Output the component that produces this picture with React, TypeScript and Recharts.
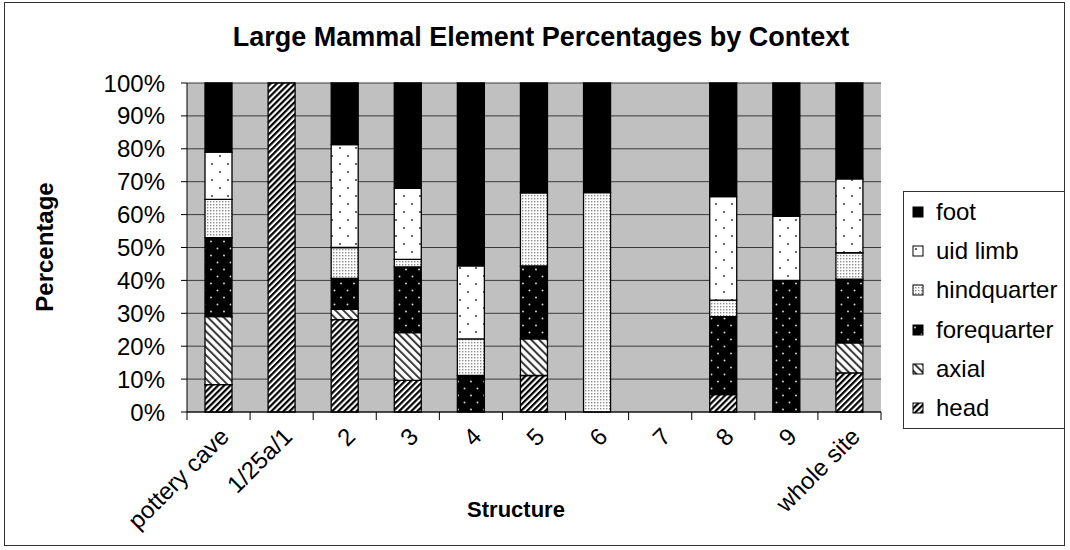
import React from 'react';
import { BarChart, Bar, XAxis, YAxis, CartesianGrid } from 'recharts';

const categories = ['pottery cave', '1/25a/1', '2', '3', '4', '5', '6', '7', '8', '9', 'whole site'];
const head = [8.3, 100, 28.1, 9.6, 0, 11.1, 0, 0, 5.3, 0, 11.9];
const axial = [20.7, 0, 3.1, 14.5, 0, 11.1, 0, 0, 0, 0, 9.1];
const forequarter = [24.0, 0, 9.4, 20.0, 11.1, 22.2, 0, 0, 23.7, 40.0, 19.4];
const hindquarter = [11.6, 0, 9.4, 2.3, 11.1, 22.2, 66.7, 0, 5.0, 0, 8.0];
const uidLimb = [14.4, 0, 31.3, 21.6, 22.2, 0, 0, 0, 31.5, 19.5, 22.5];
const foot = [21.0, 0, 18.7, 32.0, 55.6, 33.4, 33.3, 0, 34.5, 40.5, 29.1];
const yTicks = [0, 10, 20, 30, 40, 50, 60, 70, 80, 90, 100];

const seriesKeys = ['head', 'axial', 'forequarter', 'hindquarter', 'uid limb', 'foot'];
const patternIds: Record<string, string> = {
  head: 'head',
  axial: 'axial',
  forequarter: 'fore',
  hindquarter: 'hind',
  'uid limb': 'uid',
  foot: 'foot',
};
const legendOrder = ['foot', 'uid limb', 'hindquarter', 'forequarter', 'axial', 'head'];

const data = categories.map((name, i) => ({
  name,
  head: head[i],
  axial: axial[i],
  forequarter: forequarter[i],
  hindquarter: hindquarter[i],
  'uid limb': uidLimb[i],
  foot: foot[i],
}));

const FONT = "'Liberation Sans', Arial, Helvetica, sans-serif";

const makeDefs = (p: string) => (
  <defs>
    <pattern id={`${p}-head`} patternUnits="userSpaceOnUse" width="4.3" height="4.3" patternTransform="rotate(45)">
      <rect width="4.3" height="4.3" fill="#ffffff" />
      <rect width="2.2" height="4.3" fill="#000000" />
    </pattern>
    <pattern id={`${p}-axial`} patternUnits="userSpaceOnUse" width="5.6" height="5.6" patternTransform="rotate(-45)">
      <rect width="5.6" height="5.6" fill="#ffffff" />
      <rect width="2" height="5.6" fill="#3a3a3a" />
    </pattern>
    <pattern id={`${p}-fore`} patternUnits="userSpaceOnUse" width="13" height="14">
      <rect width="13" height="14" fill="#000000" />
      <circle cx="3" cy="3.5" r="0.95" fill="#d8d8d8" />
      <circle cx="9.5" cy="10.5" r="0.95" fill="#d8d8d8" />
    </pattern>
    <pattern id={`${p}-hind`} patternUnits="userSpaceOnUse" width="3" height="3">
      <rect width="3" height="3" fill="#ffffff" />
      <rect x="0" y="0" width="1.4" height="1.4" fill="#8c8c8c" />
    </pattern>
    <pattern id={`${p}-uid`} patternUnits="userSpaceOnUse" width="16" height="16">
      <rect width="16" height="16" fill="#ffffff" />
      <circle cx="4" cy="4" r="1" fill="#333333" />
      <circle cx="12" cy="12" r="1" fill="#333333" />
    </pattern>
    <pattern id={`${p}-foot`} patternUnits="userSpaceOnUse" width="4" height="4">
      <rect width="4" height="4" fill="#000000" />
    </pattern>
  </defs>
);

const XTick = (props: any) => {
  const { x, y, payload, index } = props;
  const half = payload && typeof payload.offset === 'number' && payload.offset > 0 ? payload.offset : 31.55;
  return (
    <g>
      <line x1={x - half} y1={y} x2={x - half} y2={y + 8} stroke="#000" strokeWidth={1} />
      {index === categories.length - 1 && (
        <line x1={x + half} y1={y} x2={x + half} y2={y + 8} stroke="#000" strokeWidth={1} />
      )}
      <text
        transform={`translate(${x + 6},${y + 20}) rotate(-45)`}
        textAnchor="end"
        fontSize={24}
        fontFamily={FONT}
        fill="#000"
        dy="0.35em"
      >
        {payload.value}
      </text>
    </g>
  );
};

export default function App() {
  return (
    <div style={{ position: 'relative', width: 1070, height: 550, background: '#fff', fontFamily: FONT }}>
      <style>{`body{margin:0;}`}</style>
      <div
        style={{
          position: 'absolute',
          left: 4,
          top: 2,
          width: 1061,
          height: 544,
          border: '1px solid #333',
          boxSizing: 'border-box',
        }}
      />
      <div style={{ position: 'absolute', left: 0, top: 0 }}>
        <BarChart
          width={1070}
          height={550}
          data={data}
          margin={{ top: 83, right: 189, bottom: 98, left: 127 }}
          barCategoryGap={0}
        >
          {makeDefs('c')}
          <CartesianGrid
            vertical={false}
            horizontal={true}
            fill="#c0c0c0"
            fillOpacity={1}
            stroke="#3a3a3a"
            strokeWidth={1}
          />
          <XAxis
            dataKey="name"
            type="category"
            interval={0}
            height={40}
            tickSize={0}
            tickMargin={0}
            tickLine={false}
            axisLine={{ stroke: '#000', strokeWidth: 1 }}
            tick={<XTick />}
          />
          <YAxis
            type="number"
            domain={[0, 100]}
            ticks={yTicks}
            interval={0}
            width={60}
            tickSize={6}
            tickMargin={16}
            tickFormatter={(v: number) => `${v}%`}
            tick={{ fontSize: 24, fontFamily: FONT, fill: '#000' }}
            tickLine={{ stroke: '#000' }}
            axisLine={{ stroke: '#000' }}
          />
          {seriesKeys.map((k) => (
            <Bar
              key={k}
              dataKey={k}
              stackId="a"
              barSize={27}
              fill={`url(#c-${patternIds[k]})`}
              stroke="#000"
              strokeWidth={1.3}
              isAnimationActive={false}
            />
          ))}
        </BarChart>
      </div>
      <div
        style={{
          position: 'absolute',
          left: 0,
          width: 1082,
          top: 21,
          textAlign: 'center',
          fontSize: 27,
          fontWeight: 'bold',
          lineHeight: '32px',
        }}
      >
        Large Mammal Element Percentages by Context
      </div>
      <div
        style={{
          position: 'absolute',
          left: 45,
          top: 247,
          transform: 'translate(-50%, -50%) rotate(-90deg)',
          fontSize: 24,
          fontWeight: 'bold',
          whiteSpace: 'nowrap',
        }}
      >
        Percentage
      </div>
      <div
        style={{
          position: 'absolute',
          left: 516,
          top: 510,
          transform: 'translate(-50%, -50%)',
          fontSize: 22,
          fontWeight: 'bold',
          whiteSpace: 'nowrap',
        }}
      >
        Structure
      </div>
      <div
        style={{
          position: 'absolute',
          left: 903,
          top: 191,
          width: 162,
          height: 238,
          border: '1px solid #333',
          boxSizing: 'border-box',
          background: '#fff',
        }}
      >
        {legendOrder.map((k) => (
          <div
            key={k}
            style={{ height: 39.3, display: 'flex', alignItems: 'center', paddingLeft: 8, whiteSpace: 'nowrap' }}
          >
            <svg width={12} height={12} style={{ marginRight: 12, flex: 'none' }}>
              {makeDefs(`lg-${patternIds[k]}`)}
              <rect x={1} y={1} width={10} height={10} fill={`url(#lg-${patternIds[k]}-${patternIds[k]})`} stroke="#000" strokeWidth={1} />
            </svg>
            <span style={{ fontSize: 24, color: '#000' }}>{k}</span>
          </div>
        ))}
      </div>
    </div>
  );
}
